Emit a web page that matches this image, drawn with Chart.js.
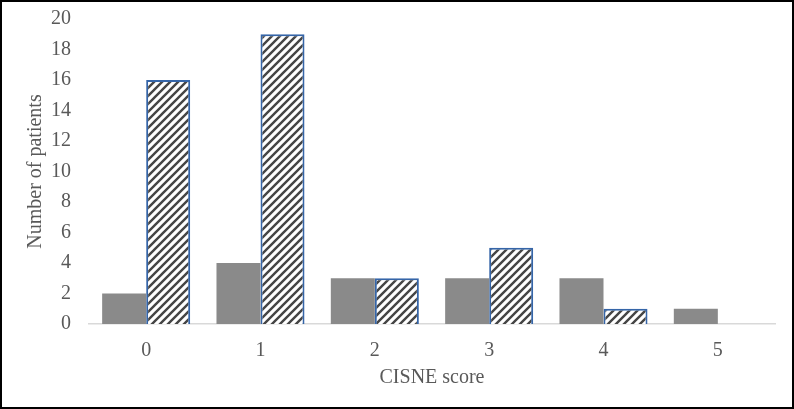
<!DOCTYPE html>
<html>
<head>
<meta charset="utf-8">
<script src="https://cdn.jsdelivr.net/npm/chart.js@4/dist/chart.umd.min.js"></script>
<style>
  html, body { margin: 0; padding: 0; background: #fff; }
  #frame { width: 794px; height: 409px; box-sizing: border-box; border: 2px solid #000; position: relative; }
  #chart { display: block; }
</style>
</head>
<body>
<div id="frame"><canvas id="chart" width="790" height="405"></canvas></div>
<script>
// CISNE score distribution — two series, grouped bars
const scores = ["0", "1", "2", "3", "4", "5"];
const solidCounts = [2, 4, 3, 3, 3, 1];
const hatchCounts = [16, 19, 3, 5, 1, null];

const TEXT = "#595959";
const SERIF = "'Liberation Serif', 'Times New Roman', serif";

// diagonal "/" hatch tile
function hatch() {
  const s = 8;
  const c = document.createElement("canvas");
  c.width = s; c.height = s;
  const g = c.getContext("2d");
  g.fillStyle = "#fff";
  g.fillRect(0, 0, s, s);
  g.strokeStyle = "#454545";
  g.lineWidth = 2.4;
  g.beginPath();
  g.moveTo(-2, s + 2); g.lineTo(s + 2, -2);
  g.moveTo(-2, 2); g.lineTo(2, -2);
  g.moveTo(s - 2, s + 2); g.lineTo(s + 2, s - 2);
  g.stroke();
  return g.createPattern(c, "repeat");
}

const ctx = document.getElementById("chart").getContext("2d");

new Chart(ctx, {
  type: "bar",
  data: {
    labels: scores,
    datasets: [
      { data: solidCounts, backgroundColor: "#8a8a8a", borderWidth: 0 },
      { data: hatchCounts, backgroundColor: hatch(), borderColor: "#3565a8", borderWidth: 2 },
    ],
  },
  options: {
    responsive: false,
    animation: false,
    layout: { padding: { left: 0, right: 17, top: 17, bottom: 0 } },
    datasets: { bar: { categoryPercentage: 0.77, barPercentage: 1.0 } },
    plugins: { legend: { display: false }, tooltip: { enabled: false } },
    scales: {
      x: {
        grid: { display: false, drawTicks: false },
        border: { display: true, color: "#d9d9d9", width: 1.5 },
        ticks: { color: TEXT, padding: 15, font: { family: SERIF, size: 20 } },
        title: { display: true, text: "CISNE score", color: TEXT, padding: { top: 0, bottom: 17 },
          font: { family: SERIF, size: 20 } },
        afterFit: (s) => { s.height = 83; s.paddingLeft = 0; s.paddingRight = 0; },
      },
      y: {
        min: 0, max: 20,
        grid: { display: false, drawTicks: false },
        border: { display: false },
        ticks: { stepSize: 2, color: TEXT, padding: 18, font: { family: SERIF, size: 20 } },
        title: { display: true, text: "Number of patients", color: TEXT, padding: { top: 22, bottom: 0 },
          font: { family: SERIF, size: 20 } },
        afterFit: (s) => { s.width = 87; s.paddingTop = 0; s.paddingBottom = 0; },
      },
    },
  },
});
</script>
</body>
</html>
